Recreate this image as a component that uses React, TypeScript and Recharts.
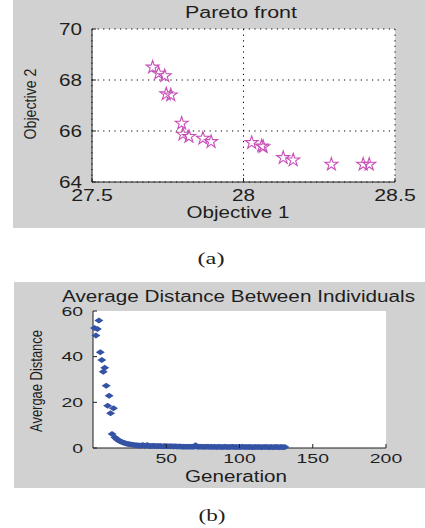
import React from "react";
import {
  ScatterChart,
  Scatter,
  XAxis,
  YAxis,
  CartesianGrid,
} from "recharts";

// (a) Pareto front
const objective1 = [
  27.7, 27.72, 27.74, 27.745, 27.76, 27.796, 27.8, 27.82, 27.866, 27.893,
  28.027, 28.06, 28.065, 28.131, 28.164, 28.29, 28.395, 28.415,
];
const objective2 = [
  68.5, 68.26, 68.16, 67.45, 67.41, 66.3, 65.87, 65.78, 65.71, 65.58,
  65.54, 65.41, 65.38, 64.95, 64.86, 64.69, 64.69, 64.69,
];
const objective1Ticks = [27.5, 28, 28.5];
const objective2Ticks = [64, 66, 68, 70];

// (b) Average distance between individuals, generation 1..n
const avgDistance = [
  52.6, 49.3, 52.1, 55.8, 41.9, 38.5, 33.4, 35.2, 27.3, 18.5,
  22.9, 15.2, 6.1, 17.4, 4.6, 4.0, 3.5, 3.1, 2.8, 2.5,
  2.3, 2.1, 1.9, 1.7, 1.6, 1.5, 1.4, 1.3, 1.2, 1.2,
  1.1, 1.1, 1.0, 1.3, 1.0, 1.0, 1.3, 0.9, 0.9, 0.9,
  1.0, 0.9, 0.9, 0.9, 0.9, 0.9, 0.8, 0.8, 0.9, 0.8,
  0.8, 0.8, 0.8, 0.8, 0.7, 0.8, 0.7, 0.7, 0.7, 0.7,
  0.6, 0.6, 0.6, 0.5, 0.6, 0.5, 0.5, 0.6, 0.5, 1.2,
  0.5, 0.5, 0.5, 0.5, 0.5, 0.4, 0.5, 0.5, 0.5, 0.4,
  0.5, 0.4, 0.5, 0.4, 0.4, 0.5, 0.4, 0.4, 0.4, 0.5,
  0.4, 0.4, 0.4, 0.4, 0.5, 0.4, 0.4, 0.4, 0.4, 0.4,
  0.4, 0.5, 0.4, 0.4, 0.4, 0.4, 0.4, 0.4, 0.3, 0.4,
  0.4, 0.4, 0.4, 0.4, 0.3, 0.4, 0.4, 0.4, 0.4, 0.3,
  0.4, 0.4, 0.3, 0.4, 0.4, 0.4, 0.3, 0.4, 0.4, 0.3,
  0.4,
];
const generationTicks = [50, 100, 150, 200];
const distanceTicks = [0, 20, 40, 60];

const paretoData = objective1.map((x, i) => ({ x, y: objective2[i] }));
const distanceData = avgDistance.map((d, i) => ({ gen: i + 1, d }));

const FONT = '"Liberation Sans", Arial, sans-serif';
const SERIF = '"Liberation Serif", "Times New Roman", serif';
const GRAY = "#d1d1d1";
const INK = "#1e1e1e";

const labelWidth = (s: string, digit: number, dot: number) =>
  s.split("").reduce((w, c) => w + (c === "." ? dot : digit), 0);

const makeXTick =
  (fontSize: number, digit: number, dy: number) =>
  ({ x, y, payload }: any) => {
    const s = String(payload.value);
    return (
      <g>
        <line x1={x} x2={x} y1={y} y2={y - 4} stroke={INK} />
        <text
          x={x}
          y={y + dy}
          textAnchor="middle"
          fontSize={fontSize}
          fontFamily={FONT}
          fill={INK}
          textLength={labelWidth(s, digit, 7)}
          lengthAdjust="spacingAndGlyphs"
        >
          {s}
        </text>
      </g>
    );
  };

const makeYTick =
  (fontSize: number, digit: number) =>
  ({ x, y, payload }: any) => {
    const s = String(payload.value);
    return (
      <g>
        <line x1={x} x2={x + 4} y1={y} y2={y} stroke={INK} />
        <text
          x={x - 10}
          y={y}
          dy="0.36em"
          textAnchor="end"
          fontSize={fontSize}
          fontFamily={FONT}
          fill={INK}
          textLength={labelWidth(s, digit, 7)}
          lengthAdjust="spacingAndGlyphs"
        >
          {s}
        </text>
      </g>
    );
  };

const TopXTick = makeXTick(16, 11.5, 19);
const TopYTick = makeYTick(16, 11.5);
const BottomXTick = makeXTick(13, 10.8, 15);
const BottomYTick = makeYTick(13, 10.8);

const StarMark = ({ cx, cy }: any) => {
  const pts: string[] = [];
  for (let k = 0; k < 10; k++) {
    const r = k % 2 === 0 ? 6.8 : 2.6;
    const a = -Math.PI / 2 + (k * Math.PI) / 5;
    pts.push(`${cx + r * Math.cos(a)},${cy + r * Math.sin(a)}`);
  }
  return (
    <polygon points={pts.join(" ")} fill="none" stroke="#c84fb8" strokeWidth={1.1} />
  );
};

const DiamondMark = ({ cx, cy }: any) => (
  <polygon
    points={`${cx - 4.5},${cy} ${cx},${cy - 3} ${cx + 4.5},${cy} ${cx},${cy + 3}`}
    fill="#3553a5"
  />
);

export default function App() {
  return (
    <div
      style={{
        position: "absolute",
        left: 0,
        top: 0,
        width: 425,
        height: 528,
        background: "#fff",
      }}
    >
      <div style={{ position: "absolute", left: 13, top: 0, width: 412, height: 228, background: GRAY }} />
      <div style={{ position: "absolute", left: 14, top: 282, width: 411, height: 206, background: GRAY }} />

      <div style={{ position: "absolute", left: 0, top: 0 }}>
        <ScatterChart width={425} height={230} margin={{ top: 29, right: 30, bottom: 0, left: 0 }}>
          <CartesianGrid stroke="#000" strokeDasharray="1.2 4.4" fill="#fff" fillOpacity={1} />
          <XAxis
            type="number"
            dataKey="x"
            domain={[27.5, 28.5]}
            ticks={objective1Ticks}
            interval={0}
            height={48}
            tickSize={0}
            tickMargin={0}
            axisLine={{ stroke: INK }}
            tick={<TopXTick />}
          />
          <YAxis
            type="number"
            dataKey="y"
            domain={[64, 70]}
            ticks={objective2Ticks}
            interval={0}
            width={92}
            tickSize={0}
            tickMargin={0}
            axisLine={{ stroke: INK }}
            tick={<TopYTick />}
          />
          <Scatter data={paretoData} shape={<StarMark />} isAnimationActive={false} />
        </ScatterChart>
      </div>

      <div style={{ position: "absolute", left: 0, top: 280 }}>
        <ScatterChart width={425} height={210} margin={{ top: 31, right: 39, bottom: 0, left: 0 }}>
          <CartesianGrid horizontal={false} vertical={false} fill="#fff" fillOpacity={1} />
          <XAxis
            type="number"
            dataKey="gen"
            domain={[0, 200]}
            ticks={generationTicks}
            interval={0}
            height={42}
            tickSize={0}
            tickMargin={0}
            axisLine={{ stroke: INK }}
            tick={<BottomXTick />}
          />
          <YAxis
            type="number"
            dataKey="d"
            domain={[0, 60]}
            ticks={distanceTicks}
            interval={0}
            width={93}
            tickSize={0}
            tickMargin={0}
            axisLine={{ stroke: INK }}
            tick={<BottomYTick />}
          />
          <Scatter data={distanceData} shape={<DiamondMark />} isAnimationActive={false} />
        </ScatterChart>
      </div>

      <svg
        width={425}
        height={528}
        style={{ position: "absolute", left: 0, top: 0, pointerEvents: "none" }}
        fontFamily={FONT}
        fill={INK}
      >
        <text x={241} y={18} textAnchor="middle" fontSize={16} textLength={112} lengthAdjust="spacingAndGlyphs">
          Pareto front
        </text>
        <text x={238} y={218} textAnchor="middle" fontSize={17} textLength={103} lengthAdjust="spacingAndGlyphs">
          Objective 1
        </text>
        <text
          transform="translate(36,104) rotate(-90)"
          textAnchor="middle"
          fontSize={16}
          textLength={71}
          lengthAdjust="spacingAndGlyphs"
        >
          Objective 2
        </text>

        <text x={238.5} y={302} textAnchor="middle" fontSize={16} textLength={353} lengthAdjust="spacingAndGlyphs">
          Average Distance Between Individuals
        </text>
        <text x={236} y={482} textAnchor="middle" fontSize={16} textLength={102} lengthAdjust="spacingAndGlyphs">
          Generation
        </text>
        <text
          transform="translate(42,381) rotate(-90)"
          textAnchor="middle"
          fontSize={16}
          textLength={102}
          lengthAdjust="spacingAndGlyphs"
        >
          Avergae Distance
        </text>

        <text x={211} y={264} textAnchor="middle" fontSize={16} fontFamily={SERIF} textLength={27} lengthAdjust="spacingAndGlyphs">
          (a)
        </text>
        <text x={212} y={521} textAnchor="middle" fontSize={16} fontFamily={SERIF} textLength={27} lengthAdjust="spacingAndGlyphs">
          (b)
        </text>
      </svg>
    </div>
  );
}
